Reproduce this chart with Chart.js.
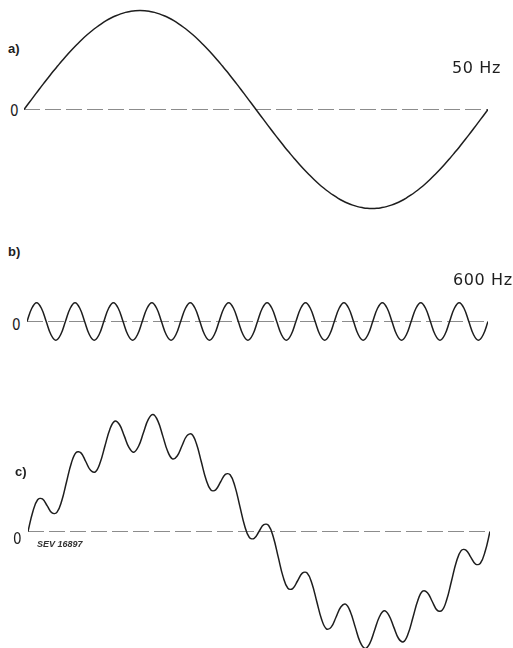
<!DOCTYPE html>
<html><head><meta charset="utf-8">
<script src="https://cdn.jsdelivr.net/npm/chart.js@4.4.1/dist/chart.umd.min.js"></script>
<style>
html,body{margin:0;padding:0;background:#fff;width:513px;height:648px;overflow:hidden;position:relative;}
.box{position:absolute;}
.lbl{position:absolute;color:#1e1e1e;white-space:nowrap;line-height:1;}
.pl{font-family:'Liberation Sans',Arial,sans-serif;font-weight:bold;font-size:13px;}
.zero{font-family:'Liberation Sans Narrow','DejaVu Sans Condensed','Liberation Sans',sans-serif;font-size:15px;}
.hz{font-family:'DejaVu Sans',sans-serif;font-size:16px;letter-spacing:0.6px;}
.sev{font-family:'Liberation Sans',Arial,sans-serif;font-weight:bold;font-style:italic;font-size:9px;color:#333;}
</style></head><body>

<div class="box" style="left:24px;top:0px;width:464px;height:230px"><canvas id="cA"></canvas></div>
<div class="box" style="left:27px;top:280px;width:461px;height:80px"><canvas id="cB"></canvas></div>
<div class="box" style="left:28px;top:390px;width:462px;height:270px"><canvas id="cC"></canvas></div>

<div class="lbl pl" style="left:8px;top:42px">a)</div>
<div class="lbl zero" style="left:10px;top:104px">0</div>
<div class="lbl hz" style="left:452px;top:60px">50 Hz</div>

<div class="lbl pl" style="left:8px;top:245px">b)</div>
<div class="lbl hz" style="left:453px;top:272px">600 Hz</div>
<div class="lbl zero" style="left:12px;top:318px">0</div>

<div class="lbl pl" style="left:15px;top:465px">c)</div>
<div class="lbl zero" style="left:13px;top:532px">0</div>
<div class="lbl sev" style="left:37px;top:540px">SEV 16897</div>

<script>
// phase of the 50 Hz period, degrees (sample positions along the time axis)
const phaseDeg = [
  0,3.75,7.5,11.25,15,18.75,22.5,26.25,
  30,33.75,37.5,41.25,45,48.75,52.5,56.25,
  60,63.75,67.5,71.25,75,78.75,82.5,86.25,
  90,93.75,97.5,101.25,105,108.75,112.5,116.25,
  120,123.75,127.5,131.25,135,138.75,142.5,146.25,
  150,153.75,157.5,161.25,165,168.75,172.5,176.25,
  180,183.75,187.5,191.25,195,198.75,202.5,206.25,
  210,213.75,217.5,221.25,225,228.75,232.5,236.25,
  240,243.75,247.5,251.25,255,258.75,262.5,266.25,
  270,273.75,277.5,281.25,285,288.75,292.5,296.25,
  300,303.75,307.5,311.25,315,318.75,322.5,326.25,
  330,333.75,337.5,341.25,345,348.75,352.5,356.25,
  360
];

// a) 50 Hz fundamental (relative amplitude)
const wave50Hz = [
  0,6.5,13,19.5,25.9,32.1,38.3,44.2,
  50,55.6,60.9,65.9,70.7,75.2,79.3,83.1,
  86.6,89.7,92.4,94.7,96.6,98.1,99.1,99.8,
  100,99.8,99.1,98.1,96.6,94.7,92.4,89.7,
  86.6,83.1,79.3,75.2,70.7,65.9,60.9,55.6,
  50,44.2,38.3,32.1,25.9,19.5,13,6.5,
  0,-6.5,-13,-19.5,-25.9,-32.1,-38.3,-44.2,
  -50,-55.6,-60.9,-65.9,-70.7,-75.2,-79.3,-83.1,
  -86.6,-89.7,-92.4,-94.7,-96.6,-98.1,-99.1,-99.8,
  -100,-99.8,-99.1,-98.1,-96.6,-94.7,-92.4,-89.7,
  -86.6,-83.1,-79.3,-75.2,-70.7,-65.9,-60.9,-55.6,
  -50,-44.2,-38.3,-32.1,-25.9,-19.5,-13,-6.5,
  0
];

// b) 600 Hz ripple
const wave600Hz = [
  0,13.4,19,13.4,0,-13.4,-19,-13.4,
  0,13.4,19,13.4,0,-13.4,-19,-13.4,
  0,13.4,19,13.4,0,-13.4,-19,-13.4,
  0,13.4,19,13.4,0,-13.4,-19,-13.4,
  0,13.4,19,13.4,0,-13.4,-19,-13.4,
  0,13.4,19,13.4,0,-13.4,-19,-13.4,
  0,13.4,19,13.4,0,-13.4,-19,-13.4,
  0,13.4,19,13.4,0,-13.4,-19,-13.4,
  0,13.4,19,13.4,0,-13.4,-19,-13.4,
  0,13.4,19,13.4,0,-13.4,-19,-13.4,
  0,13.4,19,13.4,0,-13.4,-19,-13.4,
  0,13.4,19,13.4,0,-13.4,-19,-13.4,
  0
];

// c) resulting curve
const waveSum = [
  0,20,32,32.9,25.9,18.7,19.3,30.8,
  50,69,79.9,79.4,70.7,61.8,60.3,69.7,
  86.6,103.1,111.4,108.1,96.6,84.7,80.1,86.4,
  100,113.2,118.1,111.5,96.6,81.3,73.4,76.3,
  86.6,96.6,98.3,88.6,70.7,52.5,41.9,42.1,
  50,57.7,57.3,45.6,25.9,6.1,-6,-6.9,
  0,6.9,6,-6.1,-25.9,-45.6,-57.3,-57.7,
  -50,-42.1,-41.9,-52.5,-70.7,-88.6,-98.3,-96.6,
  -86.6,-76.3,-73.4,-81.3,-96.6,-111.5,-118.1,-113.2,
  -100,-86.4,-80.1,-84.7,-96.6,-108.1,-111.4,-103.1,
  -86.6,-69.7,-60.3,-61.8,-70.7,-79.4,-79.9,-69,
  -50,-30.8,-19.3,-18.7,-25.9,-32.9,-32,-20,
  0
];

const PX_PER_UNIT = 0.99;

function wave(canvasId, values, zeroFromTop, boxHeight) {
  return new Chart(document.getElementById(canvasId), {
    type: 'line',
    data: {
      datasets: [
        {
          data: phaseDeg.map((x, i) => ({ x: x, y: values[i] })),
          borderColor: '#1e1e1e', borderWidth: 1.5, pointRadius: 0,
          tension: 0.4, cubicInterpolationMode: 'default', clip: false, fill: false
        },
        {
          data: [{ x: 0, y: 0 }, { x: 360, y: 0 }],
          borderColor: '#8c8c8c', borderWidth: 1, borderDash: [16, 5],
          pointRadius: 0, clip: false, fill: false
        }
      ]
    },
    options: {
      responsive: true, maintainAspectRatio: false, animation: false, events: [],
      layout: { padding: 0 },
      plugins: { legend: { display: false }, tooltip: { enabled: false }, title: { display: false } },
      scales: {
        x: { type: 'linear', min: 0, max: 360, display: false },
        y: { min: -(boxHeight - zeroFromTop) / PX_PER_UNIT, max: zeroFromTop / PX_PER_UNIT, display: false }
      }
    }
  });
}

wave('cA', wave50Hz, 109.5, 230);
wave('cB', wave600Hz, 41.5, 80);
wave('cC', waveSum, 141.5, 270);
</script>
</body></html>
